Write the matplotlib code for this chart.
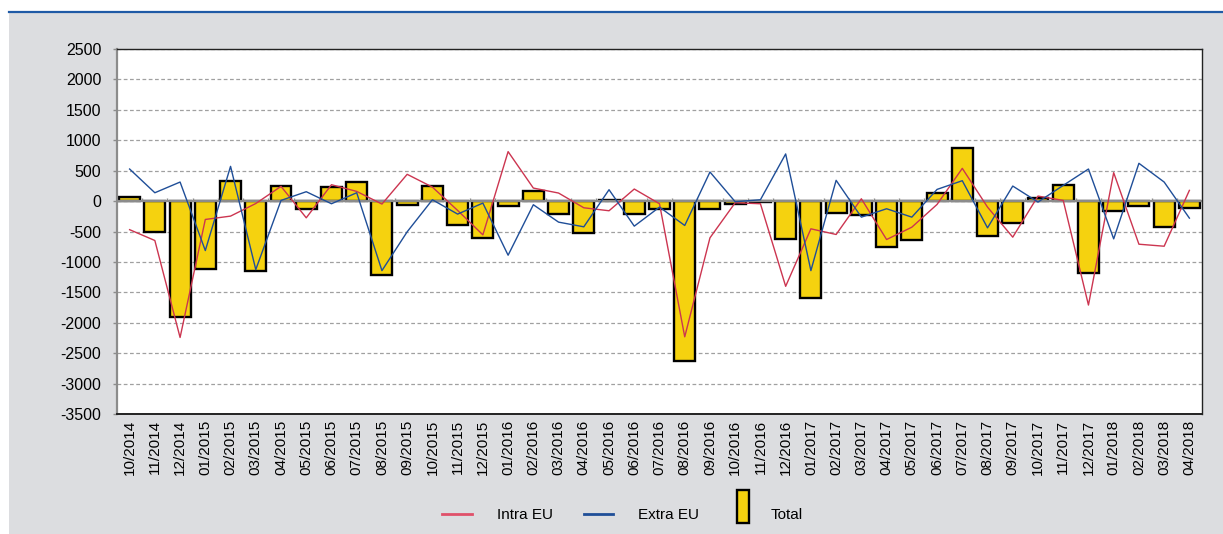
import numpy as np
import matplotlib
matplotlib.use("Agg")
import matplotlib.pyplot as plt
from matplotlib.patches import Rectangle
from matplotlib.lines import Line2D
from matplotlib.legend_handler import HandlerPatch

plt.rcParams['font.family'] = ['Liberation Sans', 'DejaVu Sans']

months = ['10/2014', '11/2014', '12/2014',
          '01/2015', '02/2015', '03/2015', '04/2015', '05/2015', '06/2015',
          '07/2015', '08/2015', '09/2015', '10/2015', '11/2015', '12/2015',
          '01/2016', '02/2016', '03/2016', '04/2016', '05/2016', '06/2016',
          '07/2016', '08/2016', '09/2016', '10/2016', '11/2016', '12/2016',
          '01/2017', '02/2017', '03/2017', '04/2017', '05/2017', '06/2017',
          '07/2017', '08/2017', '09/2017', '10/2017', '11/2017', '12/2017',
          '01/2018', '02/2018', '03/2018', '04/2018']

intra_eu = [-470, -648, -2242, -302, -247, -40, 242, -275, 269, 159, -49, 440, 230, -154, -555,
            813, 214, 132, -110, -159, 198, -44, -2231, -604, -27, -44, -1401,
            -456, -549, 38, -632, -429, -55, 538, -99, -593, 82, 11, -1709,
            467, -709, -742, 176]

extra_eu = [527, 137, 313, -813, 571, -1126, 11, 154, -44, 137, -1143, -505, 22, -214, -33,
            -890, -60, -346, -423, 187, -412, -99, -401, 478, -11, 22, 775,
            -1143, 341, -264, -126, -264, 192, 335, -440, 247, -16, 258, 527,
            -621, 621, 313, -280]

total = [65, -510, -1912, -1115, 330, -1154, 253, -126, 225, 308, -1209, -60, 247, -385, -604,
         -77, 159, -209, -527, 20, -209, -137, -2632, -126, -55, -16, -626,
         -1588, -198, -225, -758, -632, 137, 879, -577, -357, 49, 264, -1176,
         -159, -88, -429, -115]

yticks = np.arange(-3500, 2501, 500)

RED = '#cc3550'
BLUE = '#1f4e98'
YELLOW = '#f5d20f'
PANEL = '#dcdde0'
FS = 11

fig = plt.figure(figsize=(12.23, 5.34), dpi=100)
fig.patch.set_facecolor('white')

# grey panel + blue rule on top
fig.add_artist(Rectangle((9 / 1223, 0), 1 - 9 / 1223, 1 - 12 / 534,
                         transform=fig.transFigure, facecolor=PANEL, edgecolor='none', zorder=0))
fig.add_artist(Line2D([9 / 1223, 1], [1 - 11.5 / 534] * 2, transform=fig.transFigure,
                      color='#1f5aa6', lw=1.6, zorder=1))

ax = fig.add_axes([117 / 1223, 1 - 414 / 534, 1085 / 1223, 365 / 534])
ax.set_facecolor('white')

x = np.arange(len(months))
ax.bar(x, total, width=0.83, color=YELLOW, edgecolor='black', linewidth=1.7, zorder=2)
ax.axhline(0, color='#8c8c8c', lw=1.6, zorder=2.5)
ax.vlines(x[:-1] + 0.5, 0, 45, color='#8c8c8c', lw=1, zorder=2.5)
ax.plot(x, intra_eu, color=RED, lw=1.0, zorder=3)
ax.plot(x, extra_eu, color=BLUE, lw=1.0, zorder=3)

ax.set_xlim(-0.5, len(months) - 0.5)
ax.set_ylim(-3500, 2500)
ax.set_yticks(yticks)
ax.set_yticklabels([str(v) for v in yticks], fontsize=11.5)
ax.set_xticks(x)
ax.set_xticklabels(months, rotation=90, fontsize=11)
ax.tick_params(axis='x', length=0, pad=4)
ax.tick_params(axis='y', length=3.2, color='#8c8c8c', width=1, pad=8)

ax.yaxis.grid(True, color='#a0a0a0', lw=0.9, linestyle=(0, (3, 2)), zorder=1)
ax.set_axisbelow(True)

for side in ['top', 'right']:
    ax.spines[side].set_color('#222222')
    ax.spines[side].set_linewidth(1.0)
ax.spines['bottom'].set_color('#222222')
ax.spines['bottom'].set_linewidth(1.4)
ax.spines['left'].set_color('#8c8c8c')
ax.spines['left'].set_linewidth(1.6)


class TallBoxHandler(HandlerPatch):
    # narrow, tall box for the bar series; its handle slot is narrower than the lines'
    def legend_artist(self, legend, orig_handle, fontsize, handlebox):
        handlebox.width = 11.5
        return super().legend_artist(legend, orig_handle, fontsize, handlebox)

    def create_artists(self, legend, orig_handle, xdescent, ydescent, width, height,
                       fontsize, trans):
        w, h = 8.6, 23.8
        p = Rectangle((5 - xdescent, height / 2 - h / 2 + 5 - ydescent), w, h,
                      facecolor=YELLOW, edgecolor='black', linewidth=1.7)
        p.set_transform(trans)
        return [p]


handles = [Line2D([], [], color='#e0506a', lw=2),
           Line2D([], [], color=BLUE, lw=2),
           Rectangle((0, 0), 1, 1, facecolor=YELLOW, edgecolor='black', linewidth=1.7)]
fig.legend(handles, ['Intra EU', 'Extra EU', 'Total'], loc='center', ncol=3,
           bbox_to_anchor=(0.509, 1 - 515 / 534), frameon=False, fontsize=FS,
           handlelength=1.96, handletextpad=1.63, columnspacing=2.0,
           handler_map={Rectangle: TallBoxHandler()})

fig.savefig('out.png', dpi=100)
